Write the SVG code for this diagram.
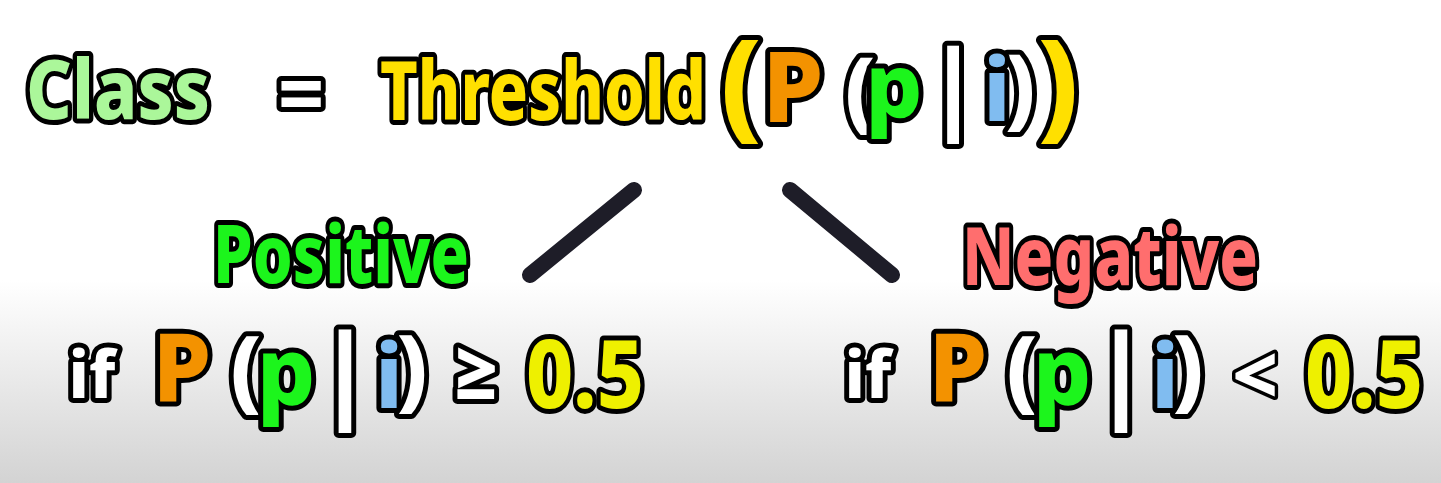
<svg xmlns="http://www.w3.org/2000/svg" width="1441" height="483" viewBox="0 0 1441 483">
<defs>
<linearGradient id="bg" x1="0" y1="0" x2="0" y2="1">
<stop offset="0" stop-color="#ffffff"/>
<stop offset="0.58" stop-color="#ffffff"/>
<stop offset="1" stop-color="#d3d3d3"/>
</linearGradient>
</defs>
<style>
text{font-family:"Noto Sans","Open Sans","Liberation Sans",sans-serif;font-weight:800;stroke:#000;stroke-width:10;stroke-linejoin:round;paint-order:stroke;text-anchor:middle}
.w{fill:#ffffff}
.lg{fill:#abf79a}
.y{fill:#ffe000}
.o{fill:#f39200}
.g{fill:#1cf51c}
.b{fill:#80bcf0}
.r{fill:#ff6e6e}
.ny{fill:#eef000}
.thin{stroke-width:7}
.conn line{stroke:#1e1d28;stroke-width:16;stroke-linecap:round}
</style>
<rect x="0" y="0" width="1441" height="483" fill="url(#bg)"/>

<g id="formula">
<text class="lg" x="118" y="119" font-size="82" textLength="184" lengthAdjust="spacingAndGlyphs">Class</text>
<text class="w" x="301" y="122" font-size="80">=</text>
<text class="y" x="543" y="120" font-size="82" textLength="326" lengthAdjust="spacingAndGlyphs">Threshold</text>
<text class="y" x="741" y="125" font-size="118">(</text>
<text class="o" x="793" y="122" font-size="98">P</text>
<text class="w" x="860" y="121" font-size="88">(</text>
<text class="w" x="1020" y="118" font-size="88">)</text>
<text class="g" x="894" y="118" font-size="90">p</text>
<text class="w" x="953" y="122" font-size="100">|</text>
<text class="b" x="997" y="121" font-size="88">i</text>
<text class="y" x="1058" y="125" font-size="118">)</text>
</g>

<g id="positive">
<text class="g" x="341" y="283" font-size="80" textLength="256" lengthAdjust="spacingAndGlyphs">Positive</text>
</g>

<g id="negative">
<text class="r" x="1110" y="285" font-size="80" textLength="296" lengthAdjust="spacingAndGlyphs">Negative</text>
</g>

<g id="cond-positive">
<text class="w" x="92" y="398" font-size="66">if</text>
<text class="o" x="182" y="401" font-size="94">P</text>
<text class="w" x="246" y="401" font-size="90">(</text>
<text class="w" x="412" y="400" font-size="90">)</text>
<text class="g" x="286" y="405" font-size="92">p</text>
<text class="w" x="345" y="409" font-size="106">|</text>
<text class="b" x="389" y="408" font-size="90">i</text>
<text class="w" x="476" y="399" font-size="74">≥</text>
<text class="ny" x="585" y="408" font-size="94" textLength="118" lengthAdjust="spacingAndGlyphs">0.5</text>
</g>

<g id="cond-negative">
<text class="w" x="868" y="398" font-size="66">if</text>
<text class="o" x="958" y="401" font-size="94">P</text>
<text class="w" x="1022" y="401" font-size="90">(</text>
<text class="w" x="1188" y="400" font-size="90">)</text>
<text class="g" x="1062" y="405" font-size="92">p</text>
<text class="w" x="1121" y="409" font-size="106">|</text>
<text class="b" x="1165" y="408" font-size="90">i</text>
<text class="w thin" x="1255" y="404" font-size="80">&lt;</text>
<text class="ny" x="1364" y="408" font-size="94" textLength="118" lengthAdjust="spacingAndGlyphs">0.5</text>
</g>

<g id="connectors" class="conn">
<line x1="634" y1="190" x2="530" y2="275"/>
<line x1="790" y1="190" x2="892" y2="275"/>
</g>
</svg>
